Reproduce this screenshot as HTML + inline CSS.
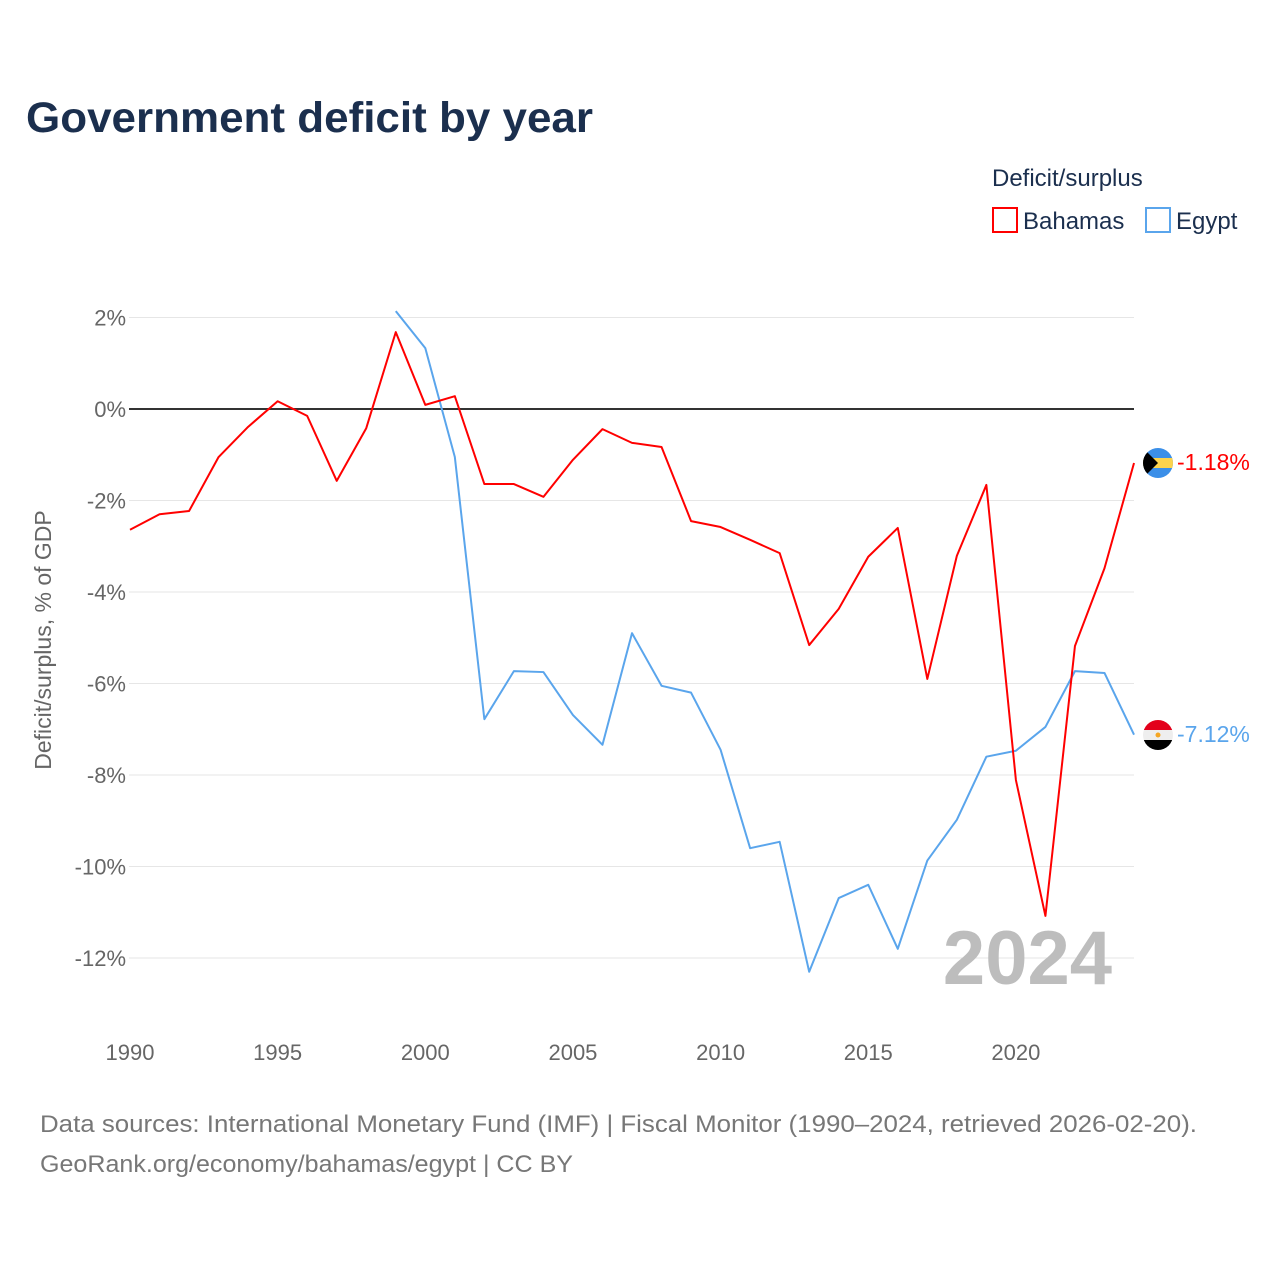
<!DOCTYPE html>
<html><head><meta charset="utf-8"><style>
body{margin:0;background:#fff;font-family:"Liberation Sans",sans-serif;}
svg text{font-family:"Liberation Sans",sans-serif;}
</style></head><body>
<svg id="chart" width="1280" height="1280" xmlns="http://www.w3.org/2000/svg">
<rect width="1280" height="1280" fill="#fff"/>
<text x="26" y="132" font-size="43" font-weight="bold" fill="#1b2f4e" textLength="567" lengthAdjust="spacingAndGlyphs">Government deficit by year</text>
<text x="992" y="186" font-size="24" fill="#1b2f4e">Deficit/surplus</text>
<g><rect x="993" y="208" width="24" height="24" fill="none" stroke="#ff0000" stroke-width="2"/><text x="1023" y="229" font-size="24" fill="#1b2f4e">Bahamas</text></g>
<g><rect x="1146" y="208" width="24" height="24" fill="none" stroke="#5aa5ec" stroke-width="2"/><text x="1176" y="229" font-size="24" fill="#1b2f4e">Egypt</text></g>
<text transform="translate(51,640) rotate(-90)" text-anchor="middle" font-size="23" fill="#666">Deficit/surplus, % of GDP</text>
<g id="grid"></g><g id="series"></g>
<text x="1112" y="984" text-anchor="end" font-size="76" font-weight="bold" fill="#bdbdbd">2024</text>
<g><clipPath id="cb"><circle cx="1158" cy="463" r="15"/></clipPath><g clip-path="url(#cb)"><rect x="1143" y="448" width="30" height="30" fill="#3b8fe8"/><rect x="1143" y="458" width="30" height="10" fill="#fcd34d"/><polygon points="1143,448 1158,463 1143,478" fill="#000"/></g></g>
<g><clipPath id="ce"><circle cx="1158" cy="735" r="15"/></clipPath><g clip-path="url(#ce)"><rect x="1143" y="720" width="30" height="10" fill="#e3001b"/><rect x="1143" y="730" width="30" height="10" fill="#eee"/><rect x="1143" y="740" width="30" height="10" fill="#000"/><circle cx="1158" cy="735" r="2.5" fill="#f5a623"/></g></g>
<text x="1177" y="470" font-size="23" fill="#ff0000">-1.18%</text>
<text x="1177" y="742" font-size="23" fill="#5aa5ec">-7.12%</text>
<text x="40" y="1132" font-size="24" fill="#777" textLength="1157" lengthAdjust="spacingAndGlyphs">Data sources: International Monetary Fund (IMF) | Fiscal Monitor (1990–2024, retrieved 2026-02-20).</text>
<text x="40" y="1172" font-size="24" fill="#777" textLength="533" lengthAdjust="spacingAndGlyphs">GeoRank.org/economy/bahamas/egypt | CC BY</text>
</svg>
<script>
const years=[1990,1991,1992,1993,1994,1995,1996,1997,1998,1999,2000,2001,2002,2003,2004,2005,2006,2007,2008,2009,2010,2011,2012,2013,2014,2015,2016,2017,2018,2019,2020,2021,2022,2023,2024];
const bahamas=[-2.64,-2.3,-2.23,-1.05,-0.39,0.17,-0.15,-1.57,-0.42,1.68,0.09,0.28,-1.64,-1.64,-1.92,-1.11,-0.44,-0.74,-0.83,-2.45,-2.58,-2.86,-3.15,-5.16,-4.37,-3.23,-2.6,-5.9,-3.21,-1.66,-8.11,-11.08,-5.18,-3.48,-1.18];
const egyptYears=[1999,2000,2001,2002,2003,2004,2005,2006,2007,2008,2009,2010,2011,2012,2013,2014,2015,2016,2017,2018,2019,2020,2021,2022,2023,2024];
const egypt=[2.14,1.33,-1.05,-6.78,-5.73,-5.75,-6.69,-7.34,-4.9,-6.05,-6.2,-7.45,-9.6,-9.46,-12.3,-10.69,-10.4,-11.8,-9.87,-8.98,-7.6,-7.47,-6.95,-5.73,-5.77,-7.12];
const yTicks=[2,0,-2,-4,-6,-8,-10,-12];
const xTicks=[1990,1995,2000,2005,2010,2015,2020];
const NS="http://www.w3.org/2000/svg";
const x=v=>130+(v-1990)*29.53;
const y=v=>409-v*45.75;
const grid=document.getElementById('grid'),ser=document.getElementById('series');
function mk(tag,attrs,parent){const e=document.createElementNS(NS,tag);for(const k in attrs)e.setAttribute(k,attrs[k]);parent.appendChild(e);return e;}
yTicks.forEach(t=>{
  const l=mk('line',{x1:129,x2:1134,y1:y(t),y2:y(t),stroke:t===0?'#333':'#e6e6e6','stroke-width':t===0?2:1},grid);
  
  
  const tx=mk('text',{x:126,y:y(t)+8,'text-anchor':'end','font-size':22,fill:'#666'},grid);
  tx.textContent=t+'%';
  
  
});
xTicks.forEach(t=>{
  const tx=mk('text',{x:x(t),y:1060,'text-anchor':'middle','font-size':22,fill:'#666'},grid);
  tx.textContent=t;
  
  
});
function line(xs,vs,color,name){
  const p=mk('polyline',{points:xs.map((yr,i)=>x(yr)+','+y(vs[i])).join(' '),fill:'none',stroke:color,'stroke-width':2,'stroke-linejoin':'round'},ser);
  
  
}
line(egyptYears,egypt,'#5aa5ec','egypt-line');
line(years,bahamas,'#ff0000','bahamas-line');
</script>
</body></html>
